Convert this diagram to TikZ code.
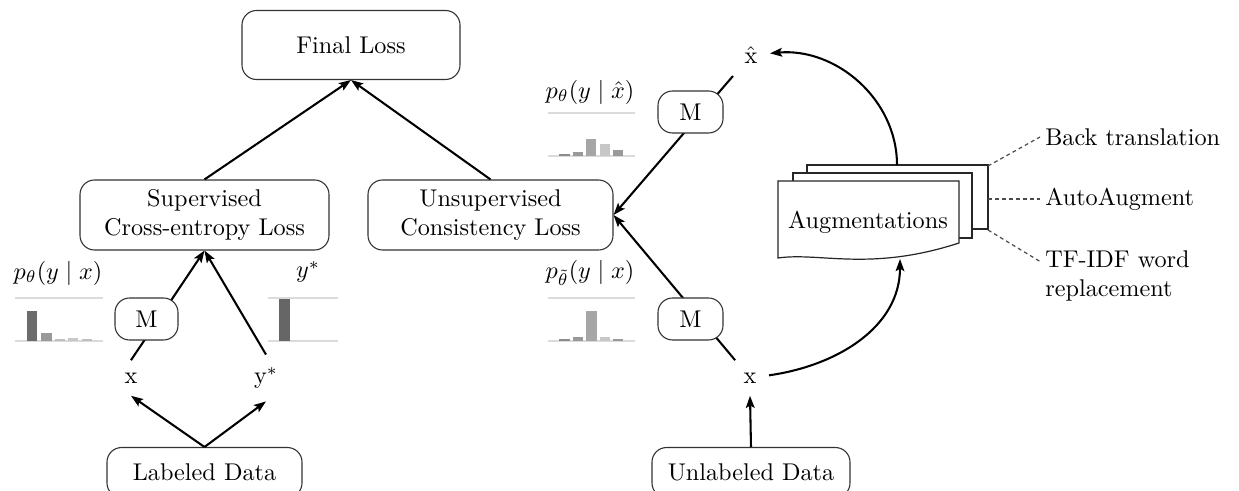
\documentclass[tikz,border=0pt]{standalone}
\usetikzlibrary{arrows.meta}
\newdimen\pxu \pxu=0.413pt
\begin{document}
\begin{tikzpicture}[x=0.413pt,y=-0.413pt,
  box/.style={draw=black!80, rounded corners=6pt, line width=0.45pt, fill=white, align=center, inner sep=2pt},
  lbl/.style={inner sep=5pt},
  arr/.style={line width=0.85pt, -{Stealth[length=5pt,width=3.6pt,inset=1pt]}},
  ln/.style={line width=0.85pt},
  axisln/.style={draw=black!14, line width=0.5pt},
  sheet/.style={draw=black!85, fill=white, line width=0.5pt},
  dsh/.style={draw=black!70, line width=0.5pt, dash pattern=on 1.6pt off 1.3pt},
  side/.style={anchor=west, inner sep=2pt, align=left}]
\useasboundingbox (0,0) rectangle (1239,491);
\clip (0,0) rectangle (1239,491);

% main boxes
\node[box, minimum width=218\pxu, minimum height=69\pxu] (final) at (351,45) {Final Loss};
\node[box, minimum width=249\pxu, minimum height=70\pxu] (sup) at (204.5,215) {Supervised\\Cross-entropy Loss};
\node[box, minimum width=245\pxu, minimum height=70\pxu] (unsup) at (490.5,215) {Unsupervised\\Consistency Loss};
\node[box, minimum width=195\pxu, minimum height=50\pxu, anchor=north] (lab) at (204.5,447) {Labeled Data};
\node[box, minimum width=198\pxu, minimum height=50\pxu, anchor=north] (unlab) at (751,447) {Unlabeled Data};

% labels
\node[lbl] (xl) at (131,378) {x};
\node[lbl] (ysl) at (266,378) {y$^*$};
\node[lbl] (xr) at (750,378) {x};
\node[lbl] (xh) at (751,55) {$\hat{\mathrm{x}}$};

% arrows to final loss
\draw[arr] (sup.north) -- (final.south);
\draw[arr] (unsup.north) -- (final.south);

% supervised branch
\draw[arr] (lab.north) -- (xl.south);
\draw[arr] (lab.north) -- (ysl.south);
\draw[arr] (xl.north) -- (sup.south);
\draw[arr] (ysl.north) -- (sup.south);
\node[box, minimum width=63\pxu, minimum height=42\pxu] (ml) at (146.5,319) {M};

% unsupervised branch
\draw[arr] (unlab.north) -- (xr.south);
\draw[arr] (xr) -- (unsup.east);
\draw[arr] (xh) -- (unsup.east);
\node[box, minimum width=65\pxu, minimum height=42\pxu] (mlow) at (690.5,319) {M};
\node[box, minimum width=65\pxu, minimum height=42\pxu] (mup) at (690.5,112) {M};

% augmentations stack
\draw[sheet] (807,165) rectangle (988,229);
\draw[sheet] (793,173) rectangle (972,238);
\draw[sheet] (778,181) -- (959,181) -- (959,243) .. controls (870,272) and (820,252) .. (778,258) -- cycle;
\node (aug) at (868,222) {Augmentations};
\coordinate (augtop) at (897,165);
\coordinate (augbot) at (900,259);
\coordinate (c1) at (988,166);
\coordinate (c2) at (988,199);
\coordinate (c3) at (988,230);

\draw[arr] (xr) to[out=8, in=-90] (augbot);
\draw[arr] (augtop) to[out=90, in=5] (xh);

% side labels
\node[side] (bt) at (1040,137) {Back translation};
\node[side] (aa) at (1040,199) {AutoAugment};
\node[side] (tf) at (1040,276) {TF-IDF word\\replacement};
\draw[dsh] (c1) -- (bt.west);
\draw[dsh] (c2) -- (aa.west);
\draw[dsh] (c3) -- ([yshift=6pt]tf.west);

% distribution: p_theta(y|x) left
\node (pl) at (58,273) {$p_\theta(y\mid x)$};
\draw[axisln] (15,298) -- (103,298);
\draw[axisln] (15,341) -- (103,341);
\fill[black!58] (27,341) rectangle (37,311);
\fill[black!40] (41,341) rectangle (52,333);
\fill[black!25] (55,341) rectangle (65,339);
\fill[black!22] (68,341) rectangle (78,338);
\fill[black!25] (82,341) rectangle (92,339);

% distribution: y*
\node (ystar) at (308,272) {$y^*$};
\draw[axisln] (268,298) -- (338,298);
\draw[axisln] (268,341) -- (338,341);
\fill[black!60] (279,341) rectangle (290,299);

% distribution: p_theta(y|xhat)
\node (pu) at (590,92) {$p_\theta(y\mid\hat{x})$};
\draw[axisln] (548,113) -- (635,113);
\draw[axisln] (548,156) -- (635,156);
\fill[black!45] (559,156) rectangle (570,154);
\fill[black!40] (573,156) rectangle (583,152);
\fill[black!35] (586,156) rectangle (596,139);
\fill[black!22] (600,156) rectangle (610,144);
\fill[black!40] (613,156) rectangle (623,150);

% distribution: p_theta~(y|x)
\node (pd) at (590,273) {$p_{\tilde\theta}(y\mid x)$};
\draw[axisln] (548,298) -- (635,298);
\draw[axisln] (548,341) -- (635,341);
\fill[black!45] (559,341) rectangle (570,339);
\fill[black!40] (573,341) rectangle (583,337);
\fill[black!35] (586,341) rectangle (597,311);
\fill[black!22] (600,341) rectangle (610,337);
\fill[black!40] (613,341) rectangle (623,339);
\end{tikzpicture}
\end{document}
